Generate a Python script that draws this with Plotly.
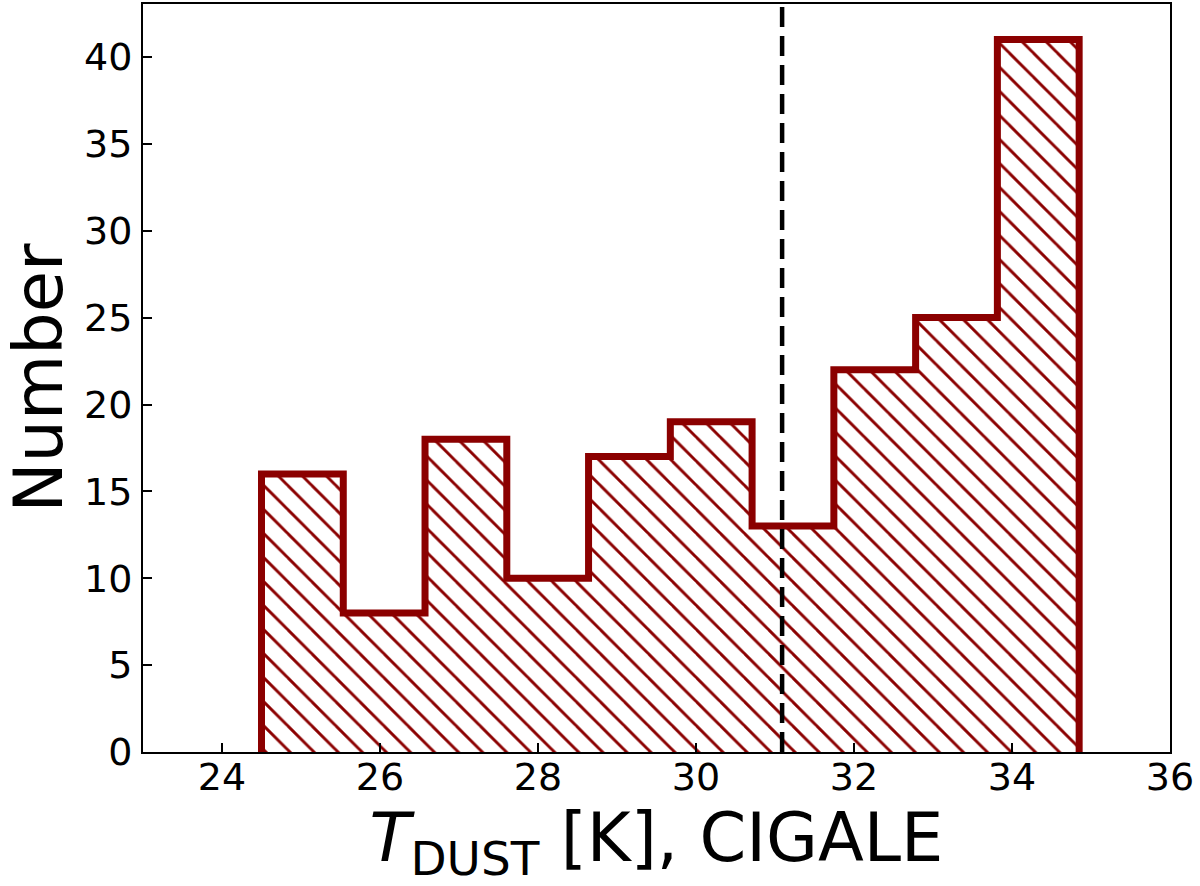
import plotly.graph_objects as go

# Histogram data
bin_edges = [24.50, 25.535, 26.57, 27.605, 28.64, 29.675, 30.71, 31.745, 32.78, 33.815, 34.85]
counts = [16, 8, 18, 10, 17, 19, 13, 22, 25, 41]
median_tdust = 31.09

x_ticks = [24, 26, 28, 30, 32, 34, 36]
y_ticks = [0, 5, 10, 15, 20, 25, 30, 35, 40]

DARKRED = "#8B0000"
FONT = "DejaVu Sans"

# step outline: start at zero on first edge, go through counts, return to zero
step_x = [bin_edges[0]] + bin_edges
step_y = [0] + counts + [0]

fig = go.Figure()
fig.add_trace(go.Scatter(
    x=step_x, y=step_y,
    mode="lines",
    line=dict(shape="hv", color=DARKRED, width=7),
    fill="tozeroy",
    fillcolor="white",
    fillpattern=dict(shape="\\", fgcolor=DARKRED, bgcolor="white", fgopacity=1,
                     size=17, solidity=0.17),
    hoverinfo="skip",
    showlegend=False,
))

fig.add_vline(x=median_tdust, line=dict(color="black", width=4.5, dash="20px,9px"))

fig.update_layout(
    width=1200, height=886,
    margin=dict(l=143, r=30, t=4, b=134, autoexpand=False),
    paper_bgcolor="white", plot_bgcolor="white",
    font=dict(family=FONT, color="black", size=37),
    showlegend=False,
)
fig.update_xaxes(
    range=[23, 36],
    tickvals=x_ticks,
    ticktext=[str(v) for v in x_ticks],
    ticks="inside", ticklen=9, tickwidth=2, tickcolor="black",
    showline=True, linecolor="black", linewidth=2, mirror=True,
    showgrid=False, zeroline=False,
    tickfont=dict(size=38, family=FONT, color="black"),
    ticklabelstandoff=-10,
    automargin=False,
    title=dict(text="<i>T</i><sub>DUST</sub> [K], CIGALE",
               font=dict(size=67, family=FONT, color="black"),
               standoff=28),
)
fig.update_yaxes(
    range=[0, 43.05],
    tickvals=y_ticks,
    ticktext=[str(v) for v in y_ticks],
    ticks="inside", ticklen=9, tickwidth=2, tickcolor="black",
    showline=True, linecolor="black", linewidth=2, mirror=True,
    showgrid=False, zeroline=False,
    tickfont=dict(size=38, family=FONT, color="black"),
    ticklabelstandoff=1,
    automargin=False,
    title=dict(text="Number",
               font=dict(size=67, family=FONT, color="black"),
               standoff=33),
)

# remove the browser's default 8px page margin so the figure sits at the window origin
fig.write_html("out.html", config={"displayModeBar": False},
               post_script="document.body.style.margin='0';")
